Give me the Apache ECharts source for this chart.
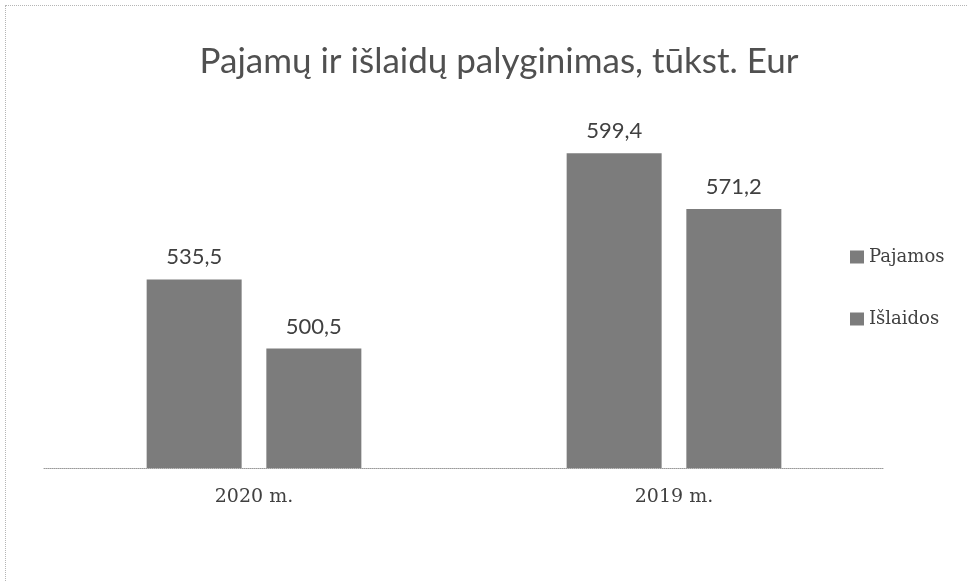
<!DOCTYPE html>
<html>
<head>
<meta charset="utf-8">
<script src="https://cdn.jsdelivr.net/npm/echarts@6/dist/echarts.min.js"></script>
<style>
  html, body { margin: 0; padding: 0; background: #fff; }
  #chart { width: 968px; height: 581px; }
  .frame { position: absolute; left: 5px; top: 5px; width: 980px; height: 600px; border: 1px dotted #b5b5b5; }
</style>
</head>
<body>
<div class="frame"></div>
<div id="chart" style="position:absolute;left:0;top:0;"></div>
<script>
const categories = ['2020 m.', '2019 m.']
const pajamos = [535.5, 599.4]
const islaidos = [500.5, 571.2]
const seriesNames = ['Pajamos', 'Išlaidos']

const chart = echarts.init(document.getElementById('chart'))

const fmt = p => p.value.toFixed(1).replace('.', ',')

const barLabel = {
  show: true,
  position: 'top',
  distance: 11,
  formatter: fmt,
  color: '#404040',
  fontFamily: 'Lato',
  fontSize: 22,
}

chart.setOption({
  animation: false,
  title: {
    text: 'Pajamų ir išlaidų palyginimas, tūkst. Eur',
    left: 494,
    textAlign: 'center',
    top: 39,
    textStyle: { fontFamily: 'Lato', fontWeight: 'normal', fontSize: 35, color: '#505050' },
  },
  legend: {
    orient: 'vertical',
    left: 845,
    top: 243,
    itemWidth: 14,
    itemHeight: 13,
    itemGap: 44,
    icon: 'rect',
    textStyle: { fontFamily: 'DejaVu Serif', fontSize: 18, color: '#404040' },
    data: seriesNames,
  },
  grid: { left: 44, width: 840, top: 73, bottom: 113 },
  xAxis: {
    type: 'category',
    data: categories,
    axisTick: { show: false },
    axisLine: { lineStyle: { color: '#9a9a9a', type: 'dotted', width: 1 } },
    axisLabel: { margin: 20, fontFamily: 'DejaVu Serif', fontSize: 19, color: '#404040' },
  },
  yAxis: {
    type: 'value',
    min: 440,
    max: 640,
    show: false,
  },
  series: [
    {
      name: seriesNames[0],
      type: 'bar',
      data: pajamos,
      barWidth: 95,
      barGap: '26%',
      itemStyle: { color: '#7c7c7c' },
      label: barLabel,
    },
    {
      name: seriesNames[1],
      type: 'bar',
      data: islaidos,
      barWidth: 95,
      itemStyle: { color: '#7c7c7c' },
      label: barLabel,
    },
  ],
})
</script>
</body>
</html>
